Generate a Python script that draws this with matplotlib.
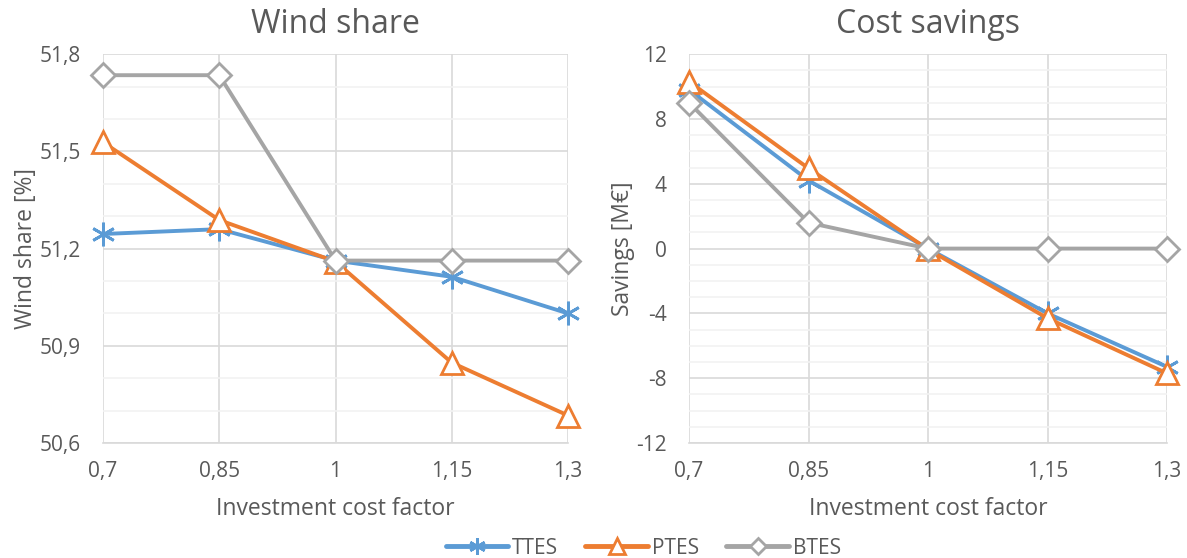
import numpy as np
import matplotlib.pyplot as plt
from matplotlib.ticker import FuncFormatter
from matplotlib.lines import Line2D

plt.rcParams['font.family'] = ['Open Sans', 'DejaVu Sans']

# investment cost factor (x axis)
cost_factor = [0.7, 0.85, 1.0, 1.15, 1.3]
x_labels = ['0,7', '0,85', '1', '1,15', '1,3']

# wind share [%]
wind_ttes = [51.245, 51.26, 51.163, 51.113, 51.0]
wind_ptes = [51.528, 51.288, 51.16, 50.848, 50.685]
wind_btes = [51.735, 51.735, 51.163, 51.163, 51.163]

# cost savings [M€]
sav_ttes = [9.8, 4.2, 0.0, -4.0, -7.3]
sav_ptes = [10.3, 4.95, -0.05, -4.3, -7.7]
sav_btes = [9.0, 1.6, 0.0, 0.0, 0.0]

series = ['TTES', 'PTES', 'BTES']
colors = ['#5B9BD5', '#ED7D31', '#A5A5A5']
markers = [(6, 2, 0), '^', 'D']
msizes = [17, 16, 12]

txt = '#595959'
grid_major = '#D9D9D9'
grid_minor = '#F2F2F2'

fig = plt.figure(figsize=(11.87, 5.58), dpi=100)
ax1 = fig.add_axes([0.0868, 0.206, 0.3917, 0.697])
ax2 = fig.add_axes([0.5805, 0.206, 0.4027, 0.697])


def comma(v, pos):
    return f'{round(v, 3):g}'.replace('.', ',')


def draw(ax, data, title, ylabel, ylim, n_major, n_minor):
    for vals, c, m, ms in zip(data, colors, markers, msizes):
        ax.plot(cost_factor, vals, color=c, lw=2.8, marker=m, ms=ms,
                mfc='white', mec=c, mew=2, clip_on=False, zorder=3)
    ax.set_xlim(0.7, 1.3)
    ax.set_ylim(*ylim)
    ax.set_xticks(cost_factor)
    ax.set_xticklabels(x_labels)
    ax.set_yticks(np.linspace(ylim[0], ylim[1], n_major + 1))
    ax.set_yticks(np.linspace(ylim[0], ylim[1], n_minor + 1), minor=True)
    ax.yaxis.set_major_formatter(FuncFormatter(comma))
    ax.grid(True, which='major', color=grid_major, lw=1.2, zorder=0)
    ax.grid(True, which='minor', axis='y', color=grid_minor, lw=1.2, zorder=0)
    for s in ['top', 'left', 'right']:
        ax.spines[s].set_visible(False)
    ax.spines['bottom'].set_color(grid_major)
    ax.spines['bottom'].set_linewidth(1.2)
    ax.tick_params(which='both', length=0, labelsize=15, colors=txt)
    ax.tick_params(axis='x', pad=13)
    ax.tick_params(axis='y', pad=16)
    ax.set_title(title, fontsize=23, color=txt, pad=15)
    ax.set_xlabel('Investment cost factor', fontsize=16.5, color=txt, labelpad=11)
    ax.set_ylabel(ylabel, fontsize=16.5, color=txt, labelpad=1)
    ax.set_axisbelow(True)


draw(ax1, [wind_ttes, wind_ptes, wind_btes], 'Wind share', 'Wind share [%]',
     (50.6, 51.8), 4, 12)
draw(ax2, [sav_ttes, sav_ptes, sav_btes], 'Cost savings', 'Savings [M€]',
     (-12, 12), 6, 24)

handles = [Line2D([], [], color=c, lw=3.5, marker=m, ms=ms * 0.7, mfc='white',
                  mec=c, mew=2, solid_capstyle='round')
           for c, m, ms in zip(colors, markers, msizes)]
fig.legend(handles, series, loc='lower center', ncol=3, frameon=False,
           fontsize=15, labelcolor=txt, bbox_to_anchor=(0.542, -0.035),
           handlelength=3.0, handletextpad=0.2, columnspacing=1.3)

fig.savefig('out.png', dpi=100, facecolor='white')
